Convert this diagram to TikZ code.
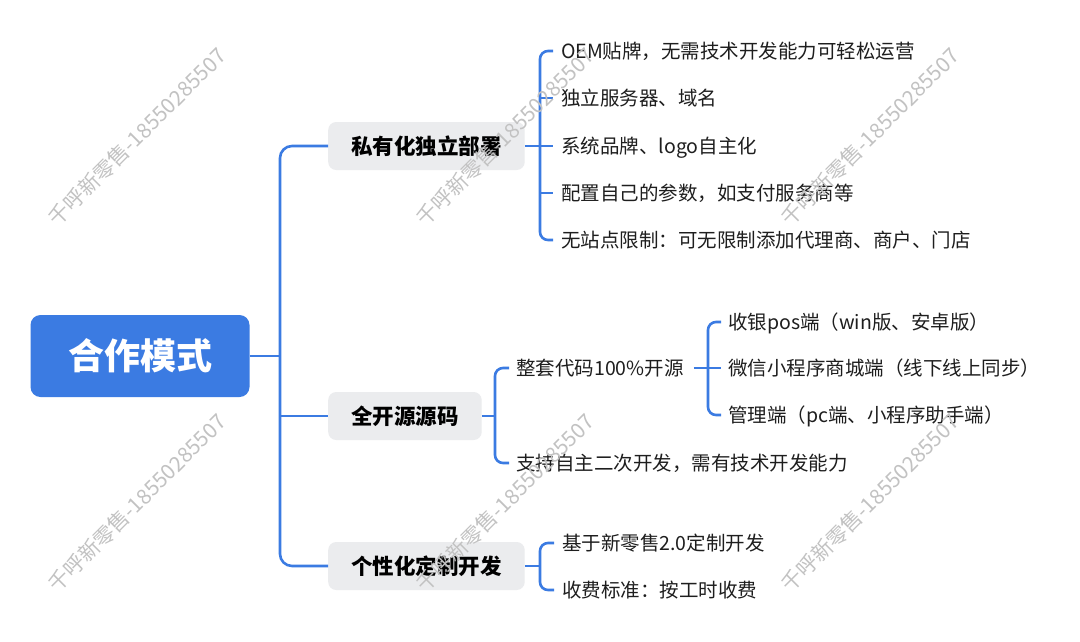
\documentclass[tikz,border=0pt]{standalone}
\usepackage{fontspec}
\setmainfont{Noto Sans CJK SC}
\definecolor{mblue}{HTML}{3B7BE2}
\definecolor{boxgray}{HTML}{EBECEE}
\definecolor{txt}{HTML}{1E1E1E}
\definecolor{wm}{HTML}{C2C2C2}
\begin{document}
\begin{tikzpicture}[x=1pt,y=-1pt,
  rootbox/.style={fill=mblue, rounded corners=10pt, text=white,
    font=\fontsize{36}{40}\selectfont\bfseries, minimum width=219pt,
    minimum height=82pt, inner sep=0pt, text height=31.7pt, text depth=4.3pt},
  topicbox/.style={fill=boxgray, rounded corners=8pt, text=black,
    font=\fontsize{21.5}{24}\selectfont\bfseries, minimum height=48pt,
    inner xsep=23pt, inner ysep=0pt, anchor=west, text height=18.9pt, text depth=2.6pt},
  leaf/.style={text=txt, font=\fontsize{19.5}{22}\selectfont, anchor=west,
    inner sep=0pt, text height=17.2pt, text depth=2.3pt},
  link/.style={draw=mblue, line width=2.6pt, rounded corners=8pt},
  trunk/.style={draw=mblue, line width=2.6pt, rounded corners=12pt},
  wmark/.style={text=wm, font=\fontsize{21}{23}\selectfont, rotate=45, inner sep=0pt}
]
\useasboundingbox[fill=white] (0,0) rectangle (1080,641);

% root
\node[rootbox] (root) at (140,356) {合作模式};

% main topics
\node[topicbox] (p1) at (328,146) {私有化独立部署};
\node[topicbox] (p2) at (328,416) {全开源源码};
\node[topicbox] (p3) at (328,566) {个性化定制开发};

% trunk
\coordinate (tr) at (280,356);
\draw[trunk] (p1.west) -| (tr) |- (p3.west);
\draw[trunk] (root.east) -- (tr);
\draw[link] (tr |- p2.west) -- (p2.west);

% branch 1 leaves
\node[leaf] (c11) at (561,51) {OEM贴牌，无需技术开发能力可轻松运营};
\node[leaf] (c12) at (561,98) {独立服务器、域名};
\node[leaf] (c13) at (561,146) {系统品牌、logo自主化};
\node[leaf] (c14) at (561,193) {配置自己的参数，如支付服务商等};
\node[leaf] (c15) at (561,240) {无站点限制：可无限制添加代理商、商户、门店};
\coordinate (b1) at (540,146);
\draw[link] ([xshift=-8pt]c11.west) -| (b1) |- ([xshift=-8pt]c15.west);
\draw[link] (p1.east) -- ([xshift=-8pt]c13.west);
\draw[link] (b1 |- c12.west) -- ([xshift=-8pt]c12.west);
\draw[link] (b1 |- c14.west) -- ([xshift=-8pt]c14.west);

% branch 2 leaves
\node[leaf] (c21) at (516,368) {整套代码100\%开源};
\node[leaf] (c22) at (516,463) {支持自主二次开发，需有技术开发能力};
\coordinate (b2) at (495,416);
\draw[link] ([xshift=-7pt]c21.west) -| (b2) |- ([xshift=-7pt]c22.west);
\draw[link] (p2.east) -- (b2);

\node[leaf] (d1) at (728,322) {收银pos端（win版、安卓版）};
\node[leaf] (d2) at (728,368) {微信小程序商城端（线下线上同步）};
\node[leaf] (d3) at (728,415) {管理端（pc端、小程序助手端）};
\coordinate (b3) at (708,368);
\draw[link] ([xshift=-7pt]d1.west) -| (b3) |- ([xshift=-7pt]d3.west);
\draw[link] ([xshift=10pt]c21.east) -- ([xshift=-7pt]d2.west);

% branch 3 leaves
\node[leaf] (e1) at (562,543) {基于新零售2.0定制开发};
\node[leaf] (e2) at (562,590) {收费标准：按工时收费};
\coordinate (b4) at (540,566);
\draw[link] ([xshift=-8pt]e1.west) -| (b4) |- ([xshift=-8pt]e2.west);
\draw[link] (p3.east) -- (b4);

% watermarks
\foreach \i/\x/\y in {1/137/137, 2/505/137, 3/870/137, 4/137/503, 5/505/503, 6/870/503}{
  \node[wmark] (wm\i) at (\x,\y) {千呼新零售-18550285507};
}
\end{tikzpicture}
\end{document}
